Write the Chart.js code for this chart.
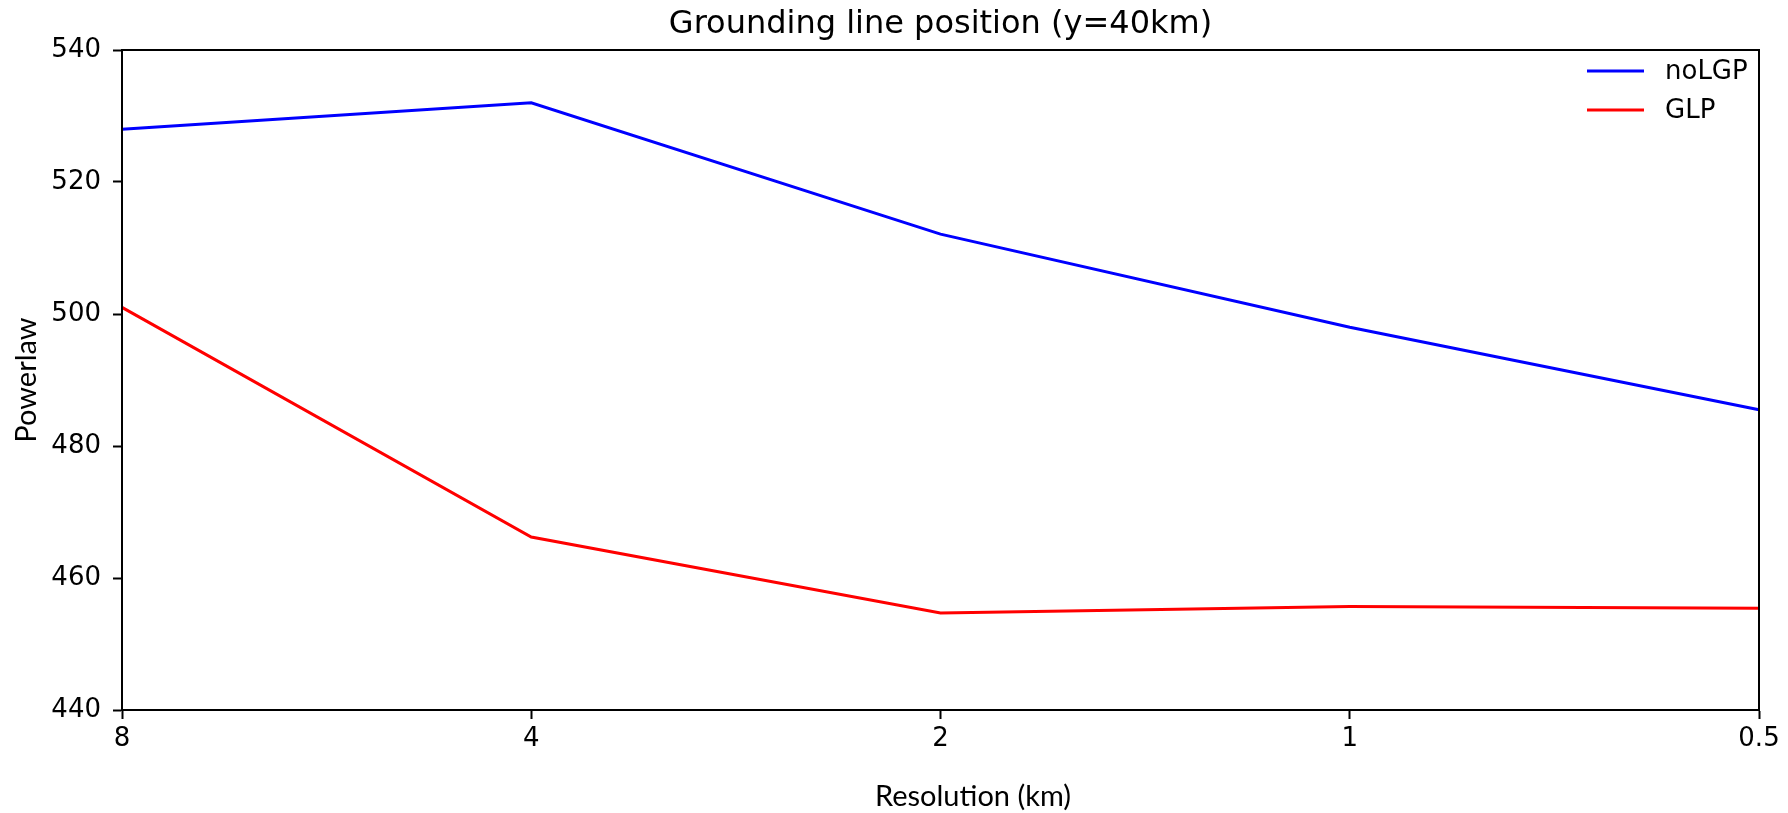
<!DOCTYPE html>
<html>
<head>
<meta charset="utf-8">
<script src="https://cdn.jsdelivr.net/npm/chart.js@4/dist/chart.umd.min.js"></script>
<style>
  html, body { margin: 0; padding: 0; background: #fff; }
  #wrap { width: 1788px; height: 813px; }
</style>
</head>
<body>
<div id="wrap"><canvas id="graficoGL"></canvas></div>
<script>
const resolucoes = ['8', '4', '2', '1', '0.5'];
const noLGP = [528, 532, 512.1, 498, 485.5];
const glp = [501, 466.2, 454.7, 455.7, 455.4];
const yTicks = [440, 460, 480, 500, 520, 540];
const titulo = 'Grounding line position (y=40km)';
const tituloX = 'Resolution (km)';

// moldura completa, título sobre os eixos e legenda dentro do gráfico (estilo matplotlib)
const moldura = {
    id: 'moldura',
    afterDraw(chart) {
        const { ctx, chartArea: a } = chart;
        ctx.save();
        ctx.strokeStyle = '#000';
        ctx.lineWidth = 2;
        ctx.strokeRect(a.left, a.top, a.right - a.left, a.bottom - a.top);

        ctx.fillStyle = '#000';
        ctx.textAlign = 'center';
        ctx.textBaseline = 'middle';
        ctx.font = '32px "DejaVu Sans"';
        ctx.fillText(titulo, (a.left + a.right) / 2, 25);
        ctx.font = '29px Lato';
        ctx.fillText(tituloX, 973, 797);

        ctx.font = '26px "DejaVu Sans"';
        ctx.textAlign = 'left';
        chart.data.datasets.forEach((ds, i) => {
            const y = a.top + 21 + i * 39;
            ctx.strokeStyle = ds.borderColor;
            ctx.lineWidth = 3;
            ctx.beginPath();
            ctx.moveTo(a.right - 172, y);
            ctx.lineTo(a.right - 115, y);
            ctx.stroke();
            ctx.fillStyle = '#000';
            ctx.fillText(ds.label, a.right - 94, y + 1);
        });
        ctx.restore();
    }
};

const ctx = document.getElementById('graficoGL').getContext('2d');
new Chart(ctx, {
    type: 'line',
    data: {
        labels: resolucoes,
        datasets: [
            {
                label: 'noLGP',
                data: noLGP,
                borderColor: '#0000ff',
                backgroundColor: '#0000ff',
                borderWidth: 3,
                pointRadius: 0,
                tension: 0
            },
            {
                label: 'GLP',
                data: glp,
                borderColor: '#ff0000',
                backgroundColor: '#ff0000',
                borderWidth: 3,
                pointRadius: 0,
                tension: 0
            }
        ]
    },
    options: {
        responsive: true,
        maintainAspectRatio: false,
        animation: false,
        layout: {
            padding: { left: 0, right: 29, top: 50, bottom: 0 }
        },
        plugins: {
            legend: { display: false },
            tooltip: { enabled: false },
            title: { display: false }
        },
        scales: {
            x: {
                offset: false,
                afterFit: s => { s.height = 103; },
                grid: {
                    drawOnChartArea: false,
                    drawTicks: true,
                    tickLength: 9,
                    tickWidth: 2,
                    tickColor: '#000'
                },
                border: { display: true, color: '#000', width: 2 },
                ticks: {
                    color: '#000',
                    padding: 5,
                    maxRotation: 0,
                    font: { family: 'DejaVu Sans', size: 26 }
                },
                title: { display: false }
            },
            y: {
                min: 440,
                max: 540,
                afterFit: s => { s.width = 122; },
                afterBuildTicks: s => { s.ticks = yTicks.map(v => ({ value: v })); },
                grid: {
                    drawOnChartArea: false,
                    drawTicks: true,
                    tickLength: 9,
                    tickWidth: 2,
                    tickColor: '#000'
                },
                border: { display: true, color: '#000', width: 2 },
                ticks: {
                    color: '#000',
                    padding: 12,
                    font: { family: 'DejaVu Sans', size: 26 }
                },
                title: {
                    display: true,
                    text: 'Powerlaw',
                    color: '#000',
                    font: { family: 'Lato', size: 29, lineHeight: 1.2 },
                    padding: { top: 9, bottom: 0 }
                }
            }
        }
    },
    plugins: [moldura]
});
</script>
</body>
</html>
